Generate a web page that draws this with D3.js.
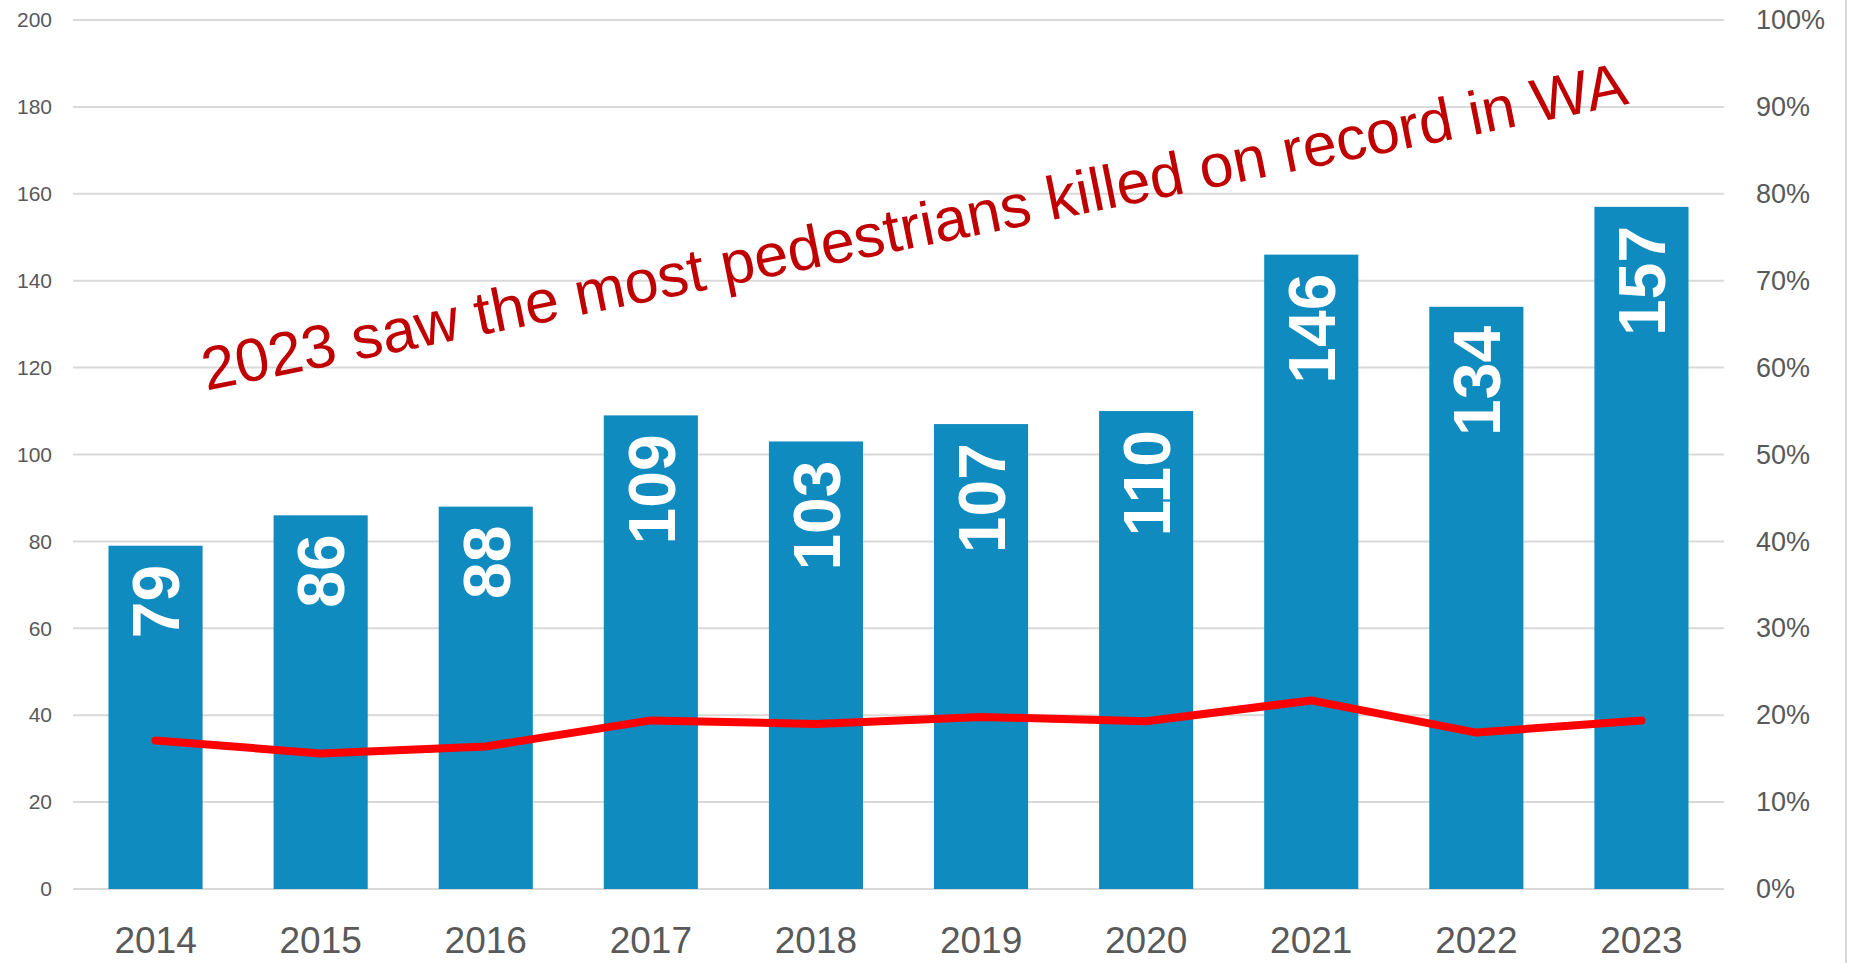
<!DOCTYPE html>
<html>
<head>
<meta charset="utf-8">
<script src="https://cdn.jsdelivr.net/npm/d3@7"></script>
<style>
  html, body { margin: 0; padding: 0; background: #fff; }
  svg { display: block; font-family: "Liberation Sans", Arial, sans-serif; }
</style>
</head>
<body>
<svg id="chart" width="1852" height="963"></svg>
<script>
// Data
const years = ["2014", "2015", "2016", "2017", "2018", "2019", "2020", "2021", "2022", "2023"];
const pedestrianDeaths = [79, 86, 88, 109, 103, 107, 110, 146, 134, 157];
const shareOfAll = [0.171, 0.156, 0.164, 0.194, 0.190, 0.198, 0.193, 0.217, 0.180, 0.194];
const leftTicks = [0, 20, 40, 60, 80, 100, 120, 140, 160, 180, 200];
const rightTicks = [0, 0.1, 0.2, 0.3, 0.4, 0.5, 0.6, 0.7, 0.8, 0.9, 1];
const headline = "2023 saw the most pedestrians killed on record in WA";

const svg = d3.select("#chart");
const plotLeft = 73, plotRight = 1724, plotTop = 20, plotBottom = 889;

const x = d3.scaleBand().domain(years).range([plotLeft, plotRight]).paddingInner(0.43).paddingOuter(0.215);
const y = d3.scaleLinear().domain([0, 200]).range([plotBottom, plotTop]);
const y2 = d3.scaleLinear().domain([0, 1]).range([plotBottom, plotTop]);

// chart area border on the right
svg.append("line")
    .attr("x1", 1846).attr("x2", 1846).attr("y1", 0).attr("y2", 963)
    .attr("stroke", "#d9d9d9").attr("stroke-width", 2);

// gridlines
svg.append("g")
    .selectAll("line")
    .data(leftTicks)
    .join("line")
    .attr("x1", plotLeft).attr("x2", plotRight)
    .attr("y1", d => y(d)).attr("y2", d => y(d))
    .attr("stroke", "#d9d9d9").attr("stroke-width", 2);

// left axis
const yAxis = svg.append("g")
    .attr("transform", `translate(${plotLeft},0)`)
    .call(d3.axisLeft(y).tickValues(leftTicks).tickSize(0).tickPadding(21));
yAxis.select(".domain").remove();
yAxis.selectAll("text").attr("font-size", 21).attr("fill", "#595959")
    .attr("font-family", "Liberation Sans, Arial, sans-serif");

// right axis
const y2Axis = svg.append("g")
    .attr("transform", `translate(${plotRight},0)`)
    .call(d3.axisRight(y2).tickValues(rightTicks).tickSize(0).tickPadding(32).tickFormat(d3.format(".0%")));
y2Axis.select(".domain").remove();
y2Axis.selectAll("text").attr("font-size", 27).attr("fill", "#595959")
    .attr("font-family", "Liberation Sans, Arial, sans-serif");

// bottom axis
const xAxis = svg.append("g")
    .attr("transform", `translate(0,${plotBottom})`)
    .call(d3.axisBottom(x).tickSize(0).tickPadding(38));
xAxis.select(".domain").remove();
xAxis.selectAll("text").attr("font-size", 37).attr("fill", "#595959")
    .attr("font-family", "Liberation Sans, Arial, sans-serif");

// bars
svg.append("g")
    .selectAll("rect")
    .data(years)
    .join("rect")
    .attr("x", d => x(d))
    .attr("width", x.bandwidth())
    .attr("y", (d, i) => y(pedestrianDeaths[i]))
    .attr("height", (d, i) => plotBottom - y(pedestrianDeaths[i]))
    .attr("fill", "#0f8bbf");

// bar labels, rotated, inside end
svg.append("g")
    .selectAll("text")
    .data(years)
    .join("text")
    .attr("transform", (d, i) => `translate(${x(d) + x.bandwidth() / 2},${y(pedestrianDeaths[i]) + 19}) rotate(-90)`)
    .attr("text-anchor", "end")
    .attr("dy", "0.36em")
    .attr("font-size", 66)
    .attr("font-weight", "bold")
    .attr("fill", "#fff")
    .text((d, i) => pedestrianDeaths[i]);

// share line
const line = d3.line()
    .x((d, i) => x(years[i]) + x.bandwidth() / 2)
    .y(d => y2(d));

svg.append("path")
    .datum(shareOfAll)
    .attr("d", line)
    .attr("fill", "none")
    .attr("stroke", "#ff0000")
    .attr("stroke-width", 8)
    .attr("stroke-linecap", "round")
    .attr("stroke-linejoin", "round");

// headline
svg.append("text")
    .attr("transform", "translate(918,247) rotate(-11.4)")
    .attr("text-anchor", "middle")
    .attr("font-size", 61)
    .attr("fill", "#c00000")
    .text(headline);
</script>
</body>
</html>
